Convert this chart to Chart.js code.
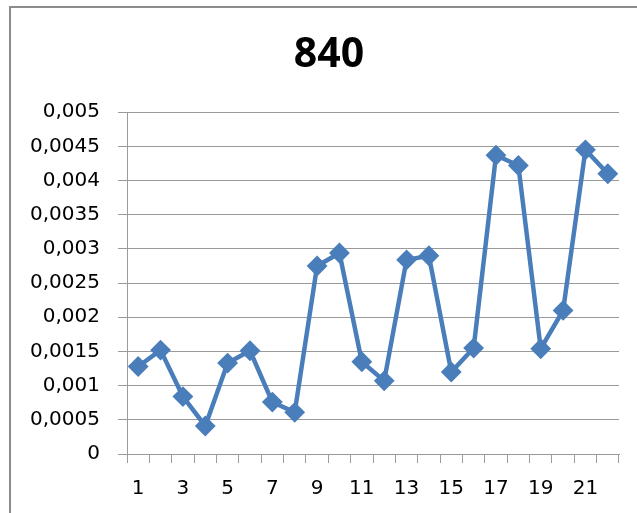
<!DOCTYPE html>
<html>
<head>
<meta charset="utf-8">
<script src="https://cdn.jsdelivr.net/npm/chart.js@4/dist/chart.umd.min.js"></script>
<style>
  html, body { margin: 0; padding: 0; background: #fff; overflow: hidden; }
  #wrap { position: relative; width: 637px; height: 513px; }
  #frame { position: absolute; left: 9px; top: 6px; width: 700px; height: 600px;
           border: 2px solid #8c8c8c; box-sizing: border-box; pointer-events: none; }
  canvas { position: absolute; left: 0; top: 0; }
</style>
</head>
<body>
<div id="wrap">
  <canvas id="c" width="637" height="513"></canvas>
  <div id="frame"></div>
</div>
<script>
// Series: one value per sample, 1..22
const categories = ['1','2','3','4','5','6','7','8','9','10','11','12','13','14','15','16','17','18','19','20','21','22'];
const values = [0.00128, 0.00152, 0.00084, 0.00041, 0.00133, 0.00151, 0.00076, 0.00061,
                0.00275, 0.00294, 0.00135, 0.00107, 0.00284, 0.00290, 0.00120, 0.00155,
                0.00437, 0.00422, 0.00154, 0.00210, 0.00445, 0.00410];
const yTicks = [0, 0.0005, 0.001, 0.0015, 0.002, 0.0025, 0.003, 0.0035, 0.004, 0.0045, 0.005];
const chartTitle = '840';

const blue = '#4a7ebb';
const gridGray = '#9a9a9a';
const tickFont = { family: 'DejaVu Sans', size: 20 };
const titleFont = { family: 'Open Sans', size: 41, weight: 'bold', lineHeight: 1.2 };

// Title centred on the outer frame rather than on the plot area
const frameTitle = {
  id: 'frameTitle',
  afterDraw(chart) {
    const ctx = chart.ctx;
    ctx.save();
    ctx.fillStyle = '#000';
    ctx.font = 'bold ' + titleFont.size + 'px "' + titleFont.family + '"';
    ctx.textAlign = 'center';
    ctx.textBaseline = 'middle';
    ctx.fillText(chartTitle, 329, 55);
    ctx.restore();
  }
};

new Chart(document.getElementById('c'), {
  type: 'line',
  data: {
    labels: categories,
    datasets: [{
      data: values,
      borderColor: blue,
      backgroundColor: blue,
      borderWidth: 4.5,
      pointStyle: 'rectRot',
      pointRadius: 9,
      pointBorderWidth: 2,
      pointBackgroundColor: blue,
      pointBorderColor: blue,
      tension: 0
    }]
  },
  plugins: [frameTitle],
  options: {
    responsive: false,
    animation: false,
    events: [],
    layout: { padding: { left: 0, right: 18, top: 0, bottom: 0 } },
    plugins: {
      legend: { display: false },
      tooltip: { enabled: false },
      title: {
        // reserves the space above the plot; the text itself is drawn by frameTitle
        display: true,
        text: chartTitle,
        color: 'rgba(0,0,0,0)',
        font: titleFont,
        padding: { top: 30, bottom: 33 }
      }
    },
    scales: {
      x: {
        type: 'category',
        offset: true,
        grid: { offset: true, drawOnChartArea: false, drawTicks: true, tickLength: 9, color: gridGray, lineWidth: 1 },
        border: { display: true, color: gridGray, width: 1 },
        ticks: {
          color: '#000',
          font: tickFont,
          padding: 14,
          maxRotation: 0,
          autoSkip: false,
          callback: function (v, i) { return i % 2 === 0 ? categories[i] : ''; }
        },
        afterFit: function (s) { s.height = 59; }
      },
      y: {
        min: 0,
        max: 0.005,
        grid: { color: gridGray, lineWidth: 1, drawTicks: true, tickLength: 9 },
        border: { display: true, color: gridGray, width: 1 },
        afterBuildTicks: function (s) { s.ticks = yTicks.map(v => ({ value: v })); },
        ticks: {
          color: '#000',
          font: tickFont,
          padding: 18,
          callback: function (v) { return String(Number(v.toFixed(4))).replace('.', ','); }
        },
        afterFit: function (s) { s.width = 127; }
      }
    }
  }
});
</script>
</body>
</html>
